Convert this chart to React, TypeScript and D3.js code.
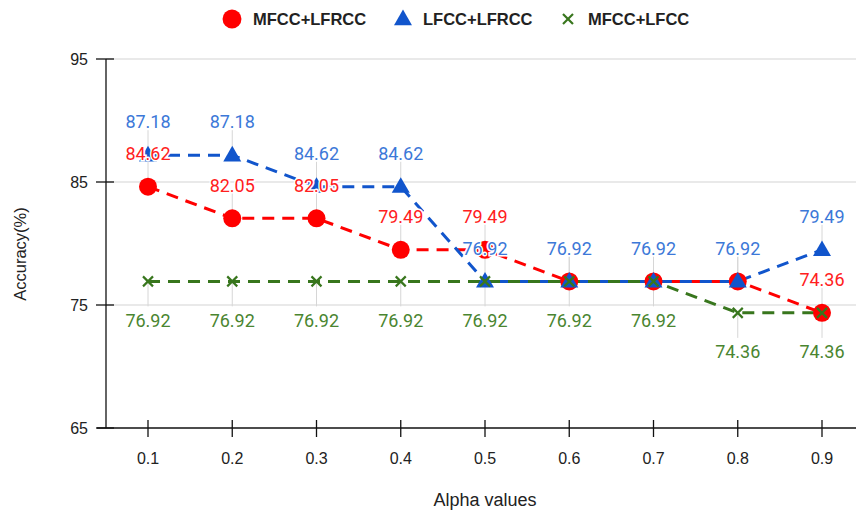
import React from "react";
import * as d3 from "d3";

const alphas = [0.1, 0.2, 0.3, 0.4, 0.5, 0.6, 0.7, 0.8, 0.9];
const mfccLfrcc = [84.62, 82.05, 82.05, 79.49, 79.49, 76.92, 76.92, 76.92, 74.36];
const lfccLfrcc = [87.18, 87.18, 84.62, 84.62, 76.92, 76.92, 76.92, 76.92, 79.49];
const mfccLfcc = [76.92, 76.92, 76.92, 76.92, 76.92, 76.92, 76.92, 74.36, 74.36];
const yTicks = [65, 75, 85, 95];
const seriesNames = ["MFCC+LFRCC", "LFCC+LFRCC", "MFCC+LFCC"];

const W = 856;
const H = 516;

type Series = {
  name: string;
  values: number[];
  color: string;
  labelColor: string;
  marker: "circle" | "triangle" | "x";
  labelBelow: boolean;
};

const series: Series[] = [
  { name: seriesNames[0], values: mfccLfrcc, color: "#ff0000", labelColor: "#ff2020", marker: "circle", labelBelow: false },
  { name: seriesNames[1], values: lfccLfrcc, color: "#1155cc", labelColor: "#3c78d8", marker: "triangle", labelBelow: false },
  { name: seriesNames[2], values: mfccLfcc, color: "#38761d", labelColor: "#4a8530", marker: "x", labelBelow: true },
];

const x = d3.scaleLinear().domain([0.1, 0.9]).range([148, 822]);
const y = d3.scaleLinear().domain([65, 95]).range([428, 59]);

const triPath = d3.symbol(d3.symbolTriangle, 140)() as string;

function Marker({ kind, cx, cy, color, scale = 1 }: { kind: string; cx: number; cy: number; color: string; scale?: number }) {
  if (kind === "circle") return <circle cx={cx} cy={cy} r={9 * scale} fill={color} />;
  if (kind === "triangle")
    return <path d={triPath} transform={`translate(${cx},${cy + 1}) scale(${scale})`} fill={color} />;
  const s = 5 * scale;
  return (
    <g stroke={color} strokeWidth={2.2} strokeLinecap="butt">
      <line x1={cx - s} y1={cy - s} x2={cx + s} y2={cy + s} />
      <line x1={cx - s} y1={cy + s} x2={cx + s} y2={cy - s} />
    </g>
  );
}

export default function App() {
  const line = d3
    .line<number>()
    .x((_, i) => x(alphas[i]))
    .y((v) => y(v));

  const axisFont = "'Liberation Sans', Arial, sans-serif";
  const labelFont = "Roboto, 'Noto Sans', sans-serif";

  const legendItems = [
    { s: series[0], mx: 232, tx: 253 },
    { s: series[1], mx: 403, tx: 423 },
    { s: series[2], mx: 568, tx: 588 },
  ];

  return (
    <svg width={W} height={H} style={{ position: "absolute", left: 0, top: 0, background: "#fff" }}>
      <rect width={W} height={H} fill="#fff" />

      {/* legend */}
      {legendItems.map(({ s, mx, tx }) => (
        <g key={s.name}>
          <Marker kind={s.marker} cx={mx} cy={19} color={s.color} scale={s.marker === "circle" ? 1.05 : 1} />
          <text x={tx} y={25} fontFamily={axisFont} fontWeight="bold" fontSize={16.5} fill="#222">
            {s.name}
          </text>
        </g>
      ))}

      {/* horizontal gridlines */}
      {yTicks.filter((t) => t !== 65).map((t) => (
        <line key={t} x1={106} x2={W} y1={y(t)} y2={y(t)} stroke="#d4d4d4" strokeWidth={1.2} />
      ))}

      {/* annotation stems */}
      {series.map((s) =>
        s.values.map((v, i) => {
          const py = y(v);
          const y2 = s.labelBelow ? py + 25 : py - 25;
          return (
            <line key={s.name + i} x1={x(alphas[i])} x2={x(alphas[i])} y1={py} y2={y2} stroke="#d6d6d6" strokeWidth={1} />
          );
        })
      )}

      {/* axes */}
      <line x1={106} x2={106} y1={y(95)} y2={y(65)} stroke="#111" strokeWidth={1.3} />
      <line x1={97} x2={W} y1={y(65)} y2={y(65)} stroke="#111" strokeWidth={1.3} />
      {yTicks.map((t) => (
        <g key={t}>
          <line x1={96} x2={114} y1={y(t)} y2={y(t)} stroke="#111" strokeWidth={1.3} />
          <text x={88} y={y(t)} dy="0.35em" textAnchor="end" fontFamily={axisFont} fontSize={16} fill="#222">
            {t}
          </text>
        </g>
      ))}
      {alphas.map((a) => (
        <g key={a}>
          <line x1={x(a)} x2={x(a)} y1={420} y2={437} stroke="#111" strokeWidth={1.3} />
          <text x={x(a)} y={458} dy="0.35em" textAnchor="middle" fontFamily={axisFont} fontSize={16} fill="#222">
            {a.toFixed(1)}
          </text>
        </g>
      ))}
      <text x={485} y={500} dy="0.35em" textAnchor="middle" fontFamily={axisFont} fontSize={18} fill="#222">
        Alpha values
      </text>
      <text
        transform={`translate(20,254) rotate(-90)`}
        dy="0.35em"
        textAnchor="middle"
        fontFamily={axisFont}
        fontSize={16.5}
        fill="#222"
      >
        Accuracy(%)
      </text>

      {/* dashed series lines */}
      {series.map((s) => (
        <path
          key={s.name}
          d={line(s.values) as string}
          fill="none"
          stroke={s.color}
          strokeWidth={3}
          strokeDasharray="12,8"
        />
      ))}

      {/* markers */}
      {series.map((s) =>
        s.values.map((v, i) => (
          <Marker key={s.name + i} kind={s.marker} cx={x(alphas[i])} cy={y(v)} color={s.color} />
        ))
      )}

      {/* value labels */}
      {series.map((s) =>
        s.values.map((v, i) => {
          const py = y(v);
          const ly = s.labelBelow ? py + 39 : py - 33;
          return (
            <text
              key={s.name + "l" + i}
              x={x(alphas[i])}
              y={ly}
              dy="0.35em"
              textAnchor="middle"
              fontFamily={labelFont}
              fontSize={18}
              fill={s.labelColor}
              stroke="#fff"
              strokeWidth={3}
              paintOrder="stroke"
            >
              {v.toFixed(2)}
            </text>
          );
        })
      )}
    </svg>
  );
}
